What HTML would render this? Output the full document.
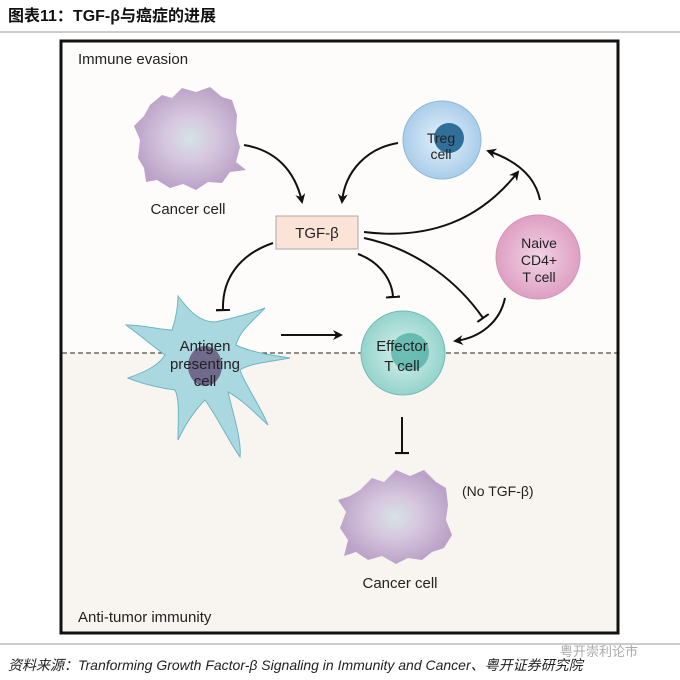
<!DOCTYPE html>
<html><head><meta charset="utf-8"><style>
body{margin:0;width:680px;height:680px;background:#fff;overflow:hidden;font-family:"Liberation Sans","Noto Sans CJK SC",sans-serif}
</style></head><body>
<svg width="680" height="680" xmlns="http://www.w3.org/2000/svg" style="position:absolute;left:0;top:0">
<defs>
<marker id="ah" markerWidth="10" markerHeight="10" refX="8" refY="5" orient="auto" markerUnits="userSpaceOnUse"><path d="M0,0 L10,5 L0,10 L3,5z" fill="#111"/></marker>
<marker id="tb" markerWidth="14" markerHeight="14" refX="1" refY="7" orient="auto" markerUnits="userSpaceOnUse"><path d="M1,0 L1,14" stroke="#111" stroke-width="2.2"/></marker>
<radialGradient id="gp" cx="50%" cy="50%" r="50%"><stop offset="0" stop-color="#d5e3e6"/><stop offset="0.45" stop-color="#d6c6de"/><stop offset="1" stop-color="#bba3c8"/></radialGradient>
<radialGradient id="gb" cx="50%" cy="50%" r="50%"><stop offset="0" stop-color="#e6f2fb"/><stop offset="1" stop-color="#a9cdea"/></radialGradient>
<radialGradient id="gk" cx="50%" cy="50%" r="50%"><stop offset="0" stop-color="#f1d4e4"/><stop offset="1" stop-color="#de9fc3"/></radialGradient>
<radialGradient id="gt" cx="50%" cy="50%" r="50%"><stop offset="0" stop-color="#d9f1ee"/><stop offset="1" stop-color="#95d3cc"/></radialGradient>
</defs>
<text x="8" y="21" font-size="16" font-weight="bold" fill="#111">图表11：TGF-β与癌症的进展</text>
<line x1="0" y1="32" x2="680" y2="32" stroke="#999" stroke-width="1"/>
<rect x="61" y="41" width="557" height="592" fill="#fdfcfa" stroke="#111" stroke-width="3"/>
<rect x="62.5" y="353" width="554" height="278.5" fill="#f8f5f0"/>
<line x1="62" y1="353" x2="617" y2="353" stroke="#222" stroke-width="1" stroke-dasharray="5,3"/>
<text x="78" y="64" font-size="15" fill="#222">Immune evasion</text>
<text x="78" y="622" font-size="15" fill="#222">Anti-tumor immunity</text>
<path d="M150,105 L162,95 L172,98 L182,88 L196,92 L210,87 L222,97 L232,100 L237,115 L236,132 L240,147 L236,162 L246,170 L230,172 L222,183 L208,182 L196,190 L183,184 L170,188 L157,180 L146,182 L144,168 L138,158 L140,140 L134,126 L144,116Z" fill="url(#gp)"/>
<text x="188" y="214" font-size="15" fill="#222" text-anchor="middle">Cancer cell</text>
<circle cx="442" cy="140" r="39" fill="url(#gb)" stroke="#8fb8dc" stroke-width="1"/>
<circle cx="449" cy="138" r="15" fill="#2f6f99"/>
<text x="441" y="143" font-size="14" fill="#222" text-anchor="middle">Treg</text>
<text x="441" y="159" font-size="14" fill="#222" text-anchor="middle">cell</text>
<circle cx="538" cy="257" r="42" fill="url(#gk)" stroke="#d493b7" stroke-width="1"/>
<text x="539" y="248" font-size="14" fill="#222" text-anchor="middle">Naive</text>
<text x="539" y="265" font-size="14" fill="#222" text-anchor="middle">CD4+</text>
<text x="539" y="282" font-size="14" fill="#222" text-anchor="middle">T cell</text>
<circle cx="403" cy="353" r="42" fill="url(#gt)" stroke="#6fbcb3" stroke-width="1"/>
<circle cx="410" cy="352" r="19" fill="#43a99e" opacity="0.7"/>
<text x="402" y="351" font-size="15" fill="#222" text-anchor="middle">Effector</text>
<text x="402" y="371" font-size="15" fill="#222" text-anchor="middle">T cell</text>
<path d="M178,296 C190,312 200,322 215,322 C235,318 255,312 265,308 C252,322 240,330 236,345 C250,352 270,355 290,358 C270,362 250,363 240,370 C245,385 260,405 268,425 C252,410 240,398 228,392 C232,410 242,440 240,457 C228,440 218,418 205,400 C195,410 185,425 178,440 C178,420 180,400 175,390 C160,388 145,385 128,378 C145,372 158,366 165,355 C150,344 140,335 126,325 C145,325 160,330 172,330 C176,318 178,306 178,296Z" fill="#a9d8e0" stroke="#6fb5c2" stroke-width="1"/>
<ellipse cx="205" cy="366" rx="17" ry="20" fill="#706a8c"/>
<text x="205" y="351" font-size="15" fill="#222" text-anchor="middle">Antigen</text>
<text x="205" y="369" font-size="15" fill="#222" text-anchor="middle">presenting</text>
<text x="205" y="386" font-size="15" fill="#222" text-anchor="middle">cell</text>
<path d="M360,490 L372,478 L384,482 L396,470 L410,476 L424,470 L436,482 L446,488 L448,505 L446,520 L452,535 L444,548 L432,552 L422,560 L408,558 L396,564 L382,556 L368,560 L356,552 L344,556 L348,540 L340,528 L346,512 L338,500 L350,496Z" fill="url(#gp)"/>
<text x="400" y="588" font-size="15" fill="#222" text-anchor="middle">Cancer cell</text>
<text x="462" y="496" font-size="14" fill="#222">(No TGF-β)</text>
<rect x="276" y="216" width="82" height="33" fill="#fbe4d7" stroke="#aaa" stroke-width="1"/>
<text x="317" y="238" font-size="15" fill="#222" text-anchor="middle">TGF-β</text>
<g fill="none" stroke="#111" stroke-width="2">
<path d="M244,145 C275,150 295,170 302,202" marker-end="url(#ah)"/>
<path d="M398,143 C368,148 345,170 342,202" marker-end="url(#ah)"/>
<path d="M364,232 C430,240 480,220 518,172" marker-end="url(#ah)"/>
<path d="M540,200 C535,175 515,160 488,151" marker-end="url(#ah)"/>
<path d="M273,243 C238,255 222,280 223,310" marker-end="url(#tb)"/>
<path d="M358,254 C380,262 392,280 393,297" marker-end="url(#tb)"/>
<path d="M364,238 C420,250 460,285 483,318" marker-end="url(#tb)"/>
<path d="M505,298 C500,322 480,338 455,341" marker-end="url(#ah)"/>
<path d="M281,335 L341,335" marker-end="url(#ah)"/>
<path d="M402,417 L402,453" marker-end="url(#tb)"/>
</g>
<line x1="0" y1="644" x2="680" y2="644" stroke="#999" stroke-width="1"/>
<text x="8" y="670" font-size="14" font-style="italic" fill="#222">资料来源：Tranforming Growth Factor-β Signaling in Immunity and Cancer、粤开证券研究院</text>
<text x="560" y="656" font-size="13" fill="#aaa">粤开崇利论市</text>
</svg>
</body></html>
